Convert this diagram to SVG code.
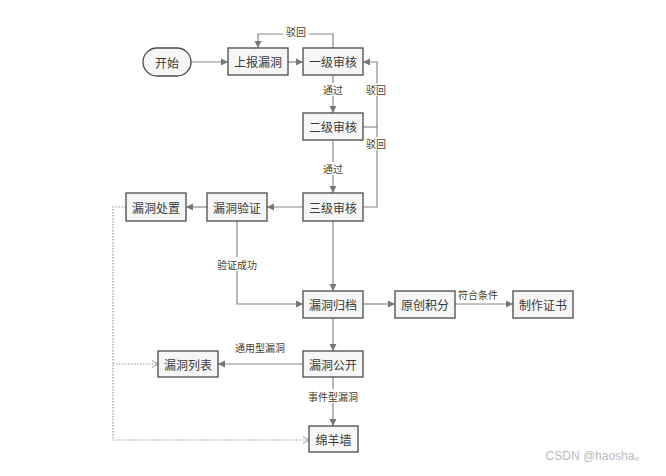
<svg xmlns="http://www.w3.org/2000/svg" width="666" height="476" viewBox="0 0 666 476">
<style>
.box{fill:#f6f6f6;stroke:#4a4a4a;stroke-width:1.3}
.t{font-family:"Noto Sans CJK SC","Noto Sans",sans-serif;font-size:12px;fill:#3a3a3a;text-anchor:middle;dominant-baseline:central}
.l{font-family:"Noto Sans CJK SC","Noto Sans",sans-serif;font-size:10px;fill:#4a4028;text-anchor:middle;dominant-baseline:central}
.c{fill:none;stroke:#888;stroke-width:1.2}
.d{fill:none;stroke:#999;stroke-width:1.2;stroke-dasharray:1.5 1.5}
.bg{fill:#fff}
</style>
<defs>
<marker id="a" markerWidth="8" markerHeight="8" refX="7" refY="4" orient="auto" markerUnits="userSpaceOnUse">
<path d="M0,0.5 L7,4 L0,7.5 Z" fill="#777"/>
</marker>
<marker id="o" markerWidth="8" markerHeight="8" refX="7" refY="4" orient="auto" markerUnits="userSpaceOnUse">
<path d="M1,0.5 L7,4 L1,7.5" fill="none" stroke="#999" stroke-width="1"/>
</marker>
</defs>
<rect width="666" height="476" fill="#fff"/>
<g id="connectors">
<path class="c" d="M191,62 H228" marker-end="url(#a)"/>
<path class="c" d="M288,62 H303" marker-end="url(#a)"/>
<path class="c" d="M333,48 V34 H258 V48" marker-end="url(#a)"/>
<path class="c" d="M333,75 V113" marker-end="url(#a)"/>
<path class="c" d="M363,127 H377"/>
<path class="c" d="M363,207 H377 V62 H363" marker-end="url(#a)"/>
<path class="c" d="M333,140 V193" marker-end="url(#a)"/>
<path class="c" d="M303,207 H267" marker-end="url(#a)"/>
<path class="c" d="M207,207 H186" marker-end="url(#a)"/>
<path class="c" d="M237,221 V304 H303" marker-end="url(#a)"/>
<path class="c" d="M333,221 V291" marker-end="url(#a)"/>
<path class="c" d="M363,304 H395" marker-end="url(#a)"/>
<path class="c" d="M455,304 H513" marker-end="url(#a)"/>
<path class="c" d="M333,318 V351" marker-end="url(#a)"/>
<path class="c" d="M303,364 H218" marker-end="url(#a)"/>
<path class="c" d="M333,377 V426" marker-end="url(#a)"/>
<path class="d" d="M126,207 H113 V440 H309" marker-end="url(#o)"/>
<path class="d" d="M113,364 H158" marker-end="url(#o)"/>
<rect class="bg" x="283" y="25" width="26" height="13"/>
<text class="l" x="296" y="31">驳回</text>
<rect class="bg" x="321" y="83" width="24" height="13"/>
<text class="l" x="333" y="89">通过</text>
<rect class="bg" x="364" y="83" width="26" height="13"/>
<text class="l" x="376" y="89">驳回</text>
<rect class="bg" x="364" y="137" width="26" height="13"/>
<text class="l" x="376" y="143">驳回</text>
<rect class="bg" x="321" y="162" width="24" height="13"/>
<text class="l" x="333" y="168">通过</text>
<rect class="bg" x="214" y="257" width="46" height="14"/>
<text class="l" x="237" y="264">验证成功</text>
<text class="l" x="478" y="294">符合条件</text>
<text class="l" x="260" y="347">通用型漏洞</text>
<rect class="bg" x="306" y="389" width="54" height="14"/>
<text class="l" x="333" y="396">事件型漏洞</text>
</g>
<g id="n-start"><rect class="box" x="143" y="48" width="48" height="28" rx="14"/><text class="t" x="167" y="62">开始</text></g>
<g id="n-report"><rect class="box" x="228" y="48" width="60" height="27"/><text class="t" x="258" y="61.5">上报漏洞</text></g>
<g id="n-r1"><rect class="box" x="303" y="48" width="60" height="27"/><text class="t" x="333" y="61.5">一级审核</text></g>
<g id="n-r2"><rect class="box" x="303" y="113" width="60" height="27"/><text class="t" x="333" y="126.5">二级审核</text></g>
<g id="n-r3"><rect class="box" x="303" y="193" width="60" height="28"/><text class="t" x="333" y="207">三级审核</text></g>
<g id="n-verify"><rect class="box" x="207" y="193" width="60" height="28"/><text class="t" x="237" y="207">漏洞验证</text></g>
<g id="n-dispose"><rect class="box" x="126" y="193" width="60" height="28"/><text class="t" x="156" y="207">漏洞处置</text></g>
<g id="n-archive"><rect class="box" x="303" y="291" width="60" height="27"/><text class="t" x="333" y="304.5">漏洞归档</text></g>
<g id="n-points"><rect class="box" x="395" y="291" width="60" height="27"/><text class="t" x="425" y="304.5">原创积分</text></g>
<g id="n-cert"><rect class="box" x="513" y="291" width="60" height="27"/><text class="t" x="543" y="304.5">制作证书</text></g>
<g id="n-public"><rect class="box" x="303" y="351" width="60" height="26"/><text class="t" x="333" y="364">漏洞公开</text></g>
<g id="n-list"><rect class="box" x="158" y="351" width="60" height="26"/><text class="t" x="188" y="364">漏洞列表</text></g>
<g id="n-wall"><rect class="box" x="309" y="426" width="49" height="26"/><text class="t" x="333.5" y="439">绵羊墙</text></g>
<text x="596" y="460" font-family="'Liberation Sans','Noto Sans CJK SC',sans-serif" font-size="12" fill="#bbb" text-anchor="middle">CSDN @haosha。</text>
</svg>
